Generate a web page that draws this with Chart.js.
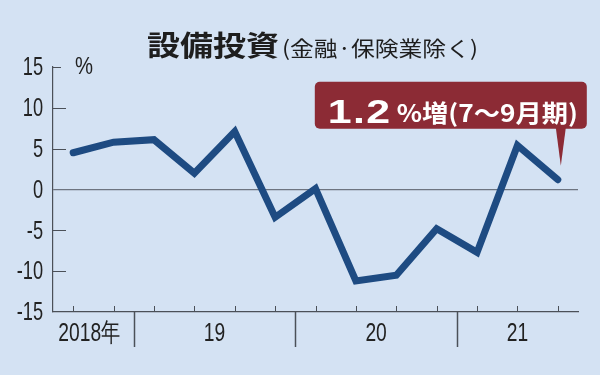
<!DOCTYPE html>
<html><head><meta charset="utf-8">
<script src="https://cdn.jsdelivr.net/npm/chart.js@4"></script>
<style>html,body{margin:0;padding:0;background:#d4e2f3;}#wrap{width:600px;height:375px;}</style>
</head><body><div id="wrap"><canvas id="c" width="600" height="375"></canvas></div>
<script>
// ---- data ----
const quarters = ['2018Q3','2018Q4','2019Q1','2019Q2','2019Q3','2019Q4','2020Q1','2020Q2','2020Q3','2020Q4','2021Q1','2021Q2','2021Q3'];
const values = [4.5, 5.8, 6.1, 2.0, 7.1, -3.4, 0.1, -11.2, -10.5, -4.8, -7.7, 5.4, 1.2];
const yTicks = [-15, -10, -5, 0, 5, 10, 15];
const yearLabels = ['2018年', '19', '20', '21'];
const quartersPerYear = [2, 4, 4, 3];
const titleMain = '設備投資';
const titleSub = '(金融·保険業除く)';
const unitLabel = '%';
const calloutNumber = '1.2';
const calloutRest = '%増(7～9月期)';

const BG = '#d4e2f3';
const AXIS = '#4b5058';
const LINE = '#1e4b82';
const RED = '#8c2b35';
const JP = '"Noto Sans CJK JP", "Noto Sans", sans-serif';
const SANS = '"Liberation Sans", Arial, sans-serif';
const SQ = 0.7; // horizontal squeeze for condensed look

function drawText(ctx, text, x, y, font, sx, align, spacing) {
  ctx.save();
  ctx.font = font;
  if (spacing) ctx.letterSpacing = spacing;
  const w = ctx.measureText(text).width;
  ctx.translate(x, y);
  ctx.scale(sx, 1);
  ctx.textAlign = 'left';
  let ox = 0;
  if (align === 'center') ox = -w / 2;
  else if (align === 'right') ox = -w;
  ctx.fillText(text, ox, 0);
  ctx.restore();
}
function drawFit(ctx, text, x, y, font, targetW, align) {
  ctx.save(); ctx.font = font;
  const w = ctx.measureText(text).width;
  ctx.restore();
  drawText(ctx, text, x, y, font, targetW / w, align);
}

const decor = {
  id: 'decor',
  beforeDraw(chart) {
    const ctx = chart.ctx;
    ctx.save();
    ctx.fillStyle = BG;
    ctx.fillRect(0, 0, chart.width, chart.height);
    ctx.restore();
  },
  beforeDatasetsDraw(chart) {
    const ctx = chart.ctx, ca = chart.chartArea;
    const xs = chart.scales.x, ys = chart.scales.y;
    ctx.save();
    ctx.strokeStyle = AXIS;
    ctx.fillStyle = '#222';
    ctx.lineWidth = 1;
    // y tick labels + inward ticks
    ys.ticks.forEach(t => {
      const v = t.value;
      const py = ys.getPixelForValue(v);
      ctx.textBaseline = 'middle';
      drawText(ctx, String(v), ca.left - 10, py + 1, '26px ' + SANS, SQ, 'right');
      if (v === 0 || v === yTicks[0]) return;
      const ry = Math.round(py) + 0.5;
      const len = v === yTicks[yTicks.length - 1] ? 8 : 13;
      ctx.beginPath(); ctx.moveTo(ca.left, ry); ctx.lineTo(ca.left + len, ry); ctx.stroke();
    });
    // quarter ticks
    quarters.forEach((q, i) => {
      const px = Math.round(xs.getPixelForValue(i)) + 0.5;
      ctx.beginPath(); ctx.moveTo(px, ca.bottom); ctx.lineTo(px, ca.bottom - 6); ctx.stroke();
    });
    // year separators & labels
    let start = 0;
    ctx.textBaseline = 'middle';
    quartersPerYear.forEach((n, k) => {
      const end = start + n - 1;
      if (k > 0) {
        const px = Math.round(xs.getPixelForValue(start - 0.5)) + 0.5;
        ctx.lineWidth = 1.5;
        ctx.beginPath(); ctx.moveTo(px, ca.bottom); ctx.lineTo(px, ca.bottom + 35); ctx.stroke();
      }
      let cx = xs.getPixelForValue((start + end) / 2);
      if (k === 0) cx -= 4;
      drawText(ctx, yearLabels[k], cx, ca.bottom + 22, '26px ' + SANS, 0.74, 'center');
      start += n;
    });
    ctx.restore();
  },
  afterDraw(chart) {
    const ctx = chart.ctx, ca = chart.chartArea;
    const xs = chart.scales.x, ys = chart.scales.y;
    ctx.save();
    ctx.fillStyle = '#1e1e1e';
    ctx.textBaseline = 'alphabetic';
    // title
    drawFit(ctx, titleMain, 147, 56, 'bold 28px ' + JP, 132, 'left');
    drawFit(ctx, titleSub, 282, 56, '21px ' + JP, 196, 'left');
    // unit
    ctx.fillStyle = '#222';
    ctx.textBaseline = 'middle';
    drawFit(ctx, unitLabel, 75, ys.getPixelForValue(yTicks[yTicks.length - 1]), '24px ' + SANS, 18, 'left');
    // callout
    const last = values.length - 1;
    const tipX = xs.getPixelForValue(last) + 3;
    const tipY = ys.getPixelForValue(values[last]) - 14;
    const bR = tipX + 26, bL = bR - 272, bB = tipY - 37, bT = bB - 47;
    ctx.fillStyle = RED;
    ctx.beginPath();
    ctx.roundRect(bL, bT, bR - bL, bB - bT, 5);
    ctx.fill();
    ctx.beginPath();
    ctx.moveTo(tipX - 5, bB - 1); ctx.lineTo(tipX + 5, bB - 1); ctx.lineTo(tipX, tipY); ctx.closePath();
    ctx.fill();
    ctx.fillStyle = '#ffffff';
    ctx.textBaseline = 'alphabetic';
    drawText(ctx, calloutNumber, bL + 13, bT + 41, 'bold 33px ' + SANS, 1.3, 'left', '1px');
    drawFit(ctx, calloutRest, bL + 82, bT + 40, 'bold 24px ' + JP, 181, 'left');
    ctx.restore();
  }
};

new Chart(document.getElementById('c'), {
  type: 'line',
  data: {
    datasets: [{
      data: values.map((v, i) => ({ x: i, y: v })),
      borderColor: LINE,
      borderWidth: 7,
      borderJoinStyle: 'miter',
      borderCapStyle: 'round',
      pointRadius: 0,
      tension: 0,
      fill: false
    }]
  },
  options: {
    responsive: false,
    animation: false,
    devicePixelRatio: 1,
    layout: { padding: { top: 67, right: 22, left: 0, bottom: 0 } },
    plugins: { legend: { display: false }, tooltip: { enabled: false }, title: { display: false } },
    scales: {
      x: {
        type: 'linear', min: -0.5, max: 12.5,
        grid: { color: 'transparent', drawTicks: false },
        ticks: { display: false },
        border: { display: true, color: AXIS, width: 1.2 },
        afterFit: s => { s.height = 63; }
      },
      y: {
        min: -15, max: 15,
        afterBuildTicks: s => { s.ticks = yTicks.map(v => ({ value: v })); },
        grid: { drawTicks: false, lineWidth: 1.2, color: c => (c.tick && c.tick.value === 0) ? '#6d7480' : 'transparent' },
        border: { display: true, color: AXIS, width: 1.2 },
        ticks: { display: false },
        afterFit: s => { s.width = 53; }
      }
    }
  },
  plugins: [decor]
});
</script></body></html>
